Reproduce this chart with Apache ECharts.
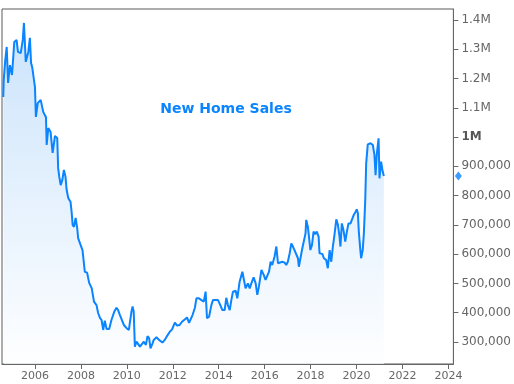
<!DOCTYPE html>
<html>
<head>
<meta charset="utf-8">
<script src="https://cdn.jsdelivr.net/npm/echarts@6/dist/echarts.min.js"></script>
<style>
html,body{margin:0;padding:0;background:#fff;}
#chart{width:514px;height:384px;}
</style>
</head>
<body>
<div id="chart"></div>
<script>
// Decimal years of each reading
var years = [
2004.62,2004.64,2004.70,2004.77,2004.83,2004.91,2005.00,2005.10,2005.20,2005.26,
2005.38,2005.47,2005.52,2005.60,2005.71,2005.78,2005.83,2005.88,2006.00,2006.04,
2006.12,2006.25,2006.36,2006.48,2006.51,2006.58,2006.68,2006.77,2006.83,2006.87,
2006.97,2007.01,2007.06,2007.12,2007.19,2007.26,2007.33,2007.38,2007.45,2007.55,
2007.60,2007.64,2007.70,2007.77,2007.84,2007.88,2007.99,2008.07,2008.17,2008.27,
2008.36,2008.47,2008.57,2008.68,2008.75,2008.83,2008.90,2008.97,2009.04,2009.12,
2009.23,2009.33,2009.45,2009.55,2009.62,2009.70,2009.77,2009.87,2009.99,2010.09,
2010.13,2010.20,2010.25,2010.30,2010.35,2010.42,2010.49,2010.57,2010.64,2010.74,
2010.83,2010.90,2010.97,2011.03,2011.12,2011.17,2011.29,2011.40,2011.55,2011.65,
2011.75,2011.87,2011.97,2012.09,2012.19,2012.30,2012.40,2012.52,2012.62,2012.71,
2012.86,2012.96,2013.03,2013.14,2013.25,2013.35,2013.43,2013.49,2013.58,2013.68,
2013.75,2013.87,2013.97,2014.07,2014.16,2014.26,2014.33,2014.40,2014.48,2014.55,
2014.62,2014.74,2014.81,2014.91,2015.03,2015.10,2015.17,2015.27,2015.35,2015.42,
2015.52,2015.61,2015.68,2015.75,2015.86,2015.96,2016.04,2016.12,2016.19,2016.26,
2016.33,2016.43,2016.51,2016.58,2016.65,2016.77,2016.87,2016.94,2017.01,2017.09,
2017.16,2017.23,2017.30,2017.38,2017.45,2017.49,2017.57,2017.64,2017.71,2017.78,
2017.81,2017.88,2017.93,2017.99,2018.06,2018.13,2018.20,2018.27,2018.35,2018.39,
2018.51,2018.58,2018.68,2018.75,2018.83,2018.90,2018.97,2019.04,2019.12,2019.19,
2019.26,2019.30,2019.36,2019.43,2019.51,2019.58,2019.65,2019.74,2019.81,2019.88,
2019.96,2020.01,2020.06,2020.10,2020.16,2020.20,2020.27,2020.32,2020.38,2020.42,
2020.49,2020.61,2020.71,2020.78,2020.83,2020.88,2020.96,2021.00,2021.07,2021.14,
2021.19
];
// New home sales, thousands
var salesK = [
1137,1195,1257,1308,1185,1246,1212,1325,1332,1291,
1287,1332,1390,1257,1291,1339,1253,1239,1171,1069,
1116,1127,1086,1068,973,1031,1017,946,980,1004,
997,894,864,836,853,888,864,819,792,778,
741,700,693,724,689,655,631,614,540,537,
502,484,438,426,399,382,375,341,373,344,
344,375,403,417,409,392,389,358,347,341,
365,403,421,403,284,301,297,284,286,301,
290,320,313,278,295,307,316,307,298,307,
320,335,343,366,356,358,369,377,384,365,
392,416,449,449,443,438,472,381,386,426,
443,443,443,426,409,409,451,426,409,443,
472,475,449,506,540,535,483,500,483,500,
521,500,461,489,546,529,512,518,540,574,
563,591,626,569,574,574,571,563,574,603,
637,626,614,614,586,557,552,620,626,671,
717,694,660,614,631,677,668,677,660,603,
601,586,580,552,614,574,626,666,719,700,
660,626,705,683,643,677,705,705,708,734,
745,753,740,677,620,586,614,671,785,910,
975,979,973,939,870,939,996,859,916,882,
867
];
var xTickLabels = [2006,2008,2010,2012,2014,2016,2018,2020,2022,2024];
var yTickValues = [300000,400000,500000,600000,700000,800000,900000,1000000,1100000,1200000,1300000,1400000];
var titleText = 'New Home Sales';

var X_MIN = 2004.565, X_MAX = 2024.217;
var seriesData = years.map(function (y, i) { return [y, salesK[i] * 1000]; });
var lastVal = salesK[salesK.length - 1] * 1000;

function fmtY(v) {
  if (v >= 1000000) {
    var s = (v / 1000000).toString() + 'M';
    return v === 1000000 ? '{b|' + s + '}' : s;
  }
  return v.toString().replace(/\B(?=(\d{3})+(?!\d))/g, ',');
}

var chart = echarts.init(document.getElementById('chart'), null, {renderer: 'canvas'});
chart.setOption({
  animation: false,
  backgroundColor: '#ffffff',
  title: {
    text: titleText,
    left: 221, top: 97, textAlign: 'center',
    textStyle: {fontFamily: 'DejaVu Sans', fontWeight: 'bold', fontSize: 14, color: '#0a84ff'}
  },
  grid: {left: 2, right: 60, top: 9, bottom: 20, show: true, borderColor: '#5a5a5a', borderWidth: 1, backgroundColor: 'transparent'},
  xAxis: {
    type: 'value', min: X_MIN, max: X_MAX, z: 10,
    axisLine: {show: true, lineStyle: {color: '#666', width: 1}},
    axisTick: {show: true, length: 5, lineStyle: {color: '#666'}, customValues: xTickLabels},
    axisLabel: {
      customValues: xTickLabels, margin: 7,
      fontFamily: 'DejaVu Sans', fontSize: 11, color: '#666',
      formatter: function (v) { return String(Math.round(v)); }
    },
    splitLine: {show: false}
  },
  yAxis: {
    type: 'value', position: 'right', min: 224700, max: 1437600, z: 10,
    axisLine: {show: true, lineStyle: {color: '#666', width: 1}},
    axisTick: {show: true, length: 5, lineStyle: {color: '#666'}, customValues: yTickValues},
    axisLabel: {
      customValues: yTickValues, margin: 8,
      fontFamily: 'DejaVu Sans', fontSize: 12, color: '#666',
      formatter: fmtY,
      rich: {b: {fontFamily: 'DejaVu Sans', fontSize: 12, fontWeight: 'bold', color: '#555'}}
    },
    splitLine: {show: false}
  },
  series: [
    {
      type: 'line', data: seriesData, showSymbol: false, symbol: 'none',
      lineStyle: {color: '#0a84ff', width: 2},
      areaStyle: {
        color: new echarts.graphic.LinearGradient(0, 0, 0, 1, [
          {offset: 0, color: '#b6d8fa'},
          {offset: 1, color: '#fdfeff'}
        ])
      },
      z: 2
    },
    {
      type: 'scatter', data: [[X_MAX, lastVal]], clip: false,
      symbol: 'diamond', symbolSize: [7, 9], symbolOffset: [5, 0],
      itemStyle: {color: '#0a84ff'}, z: 5, silent: true
    }
  ]
});
</script>
</body>
</html>
